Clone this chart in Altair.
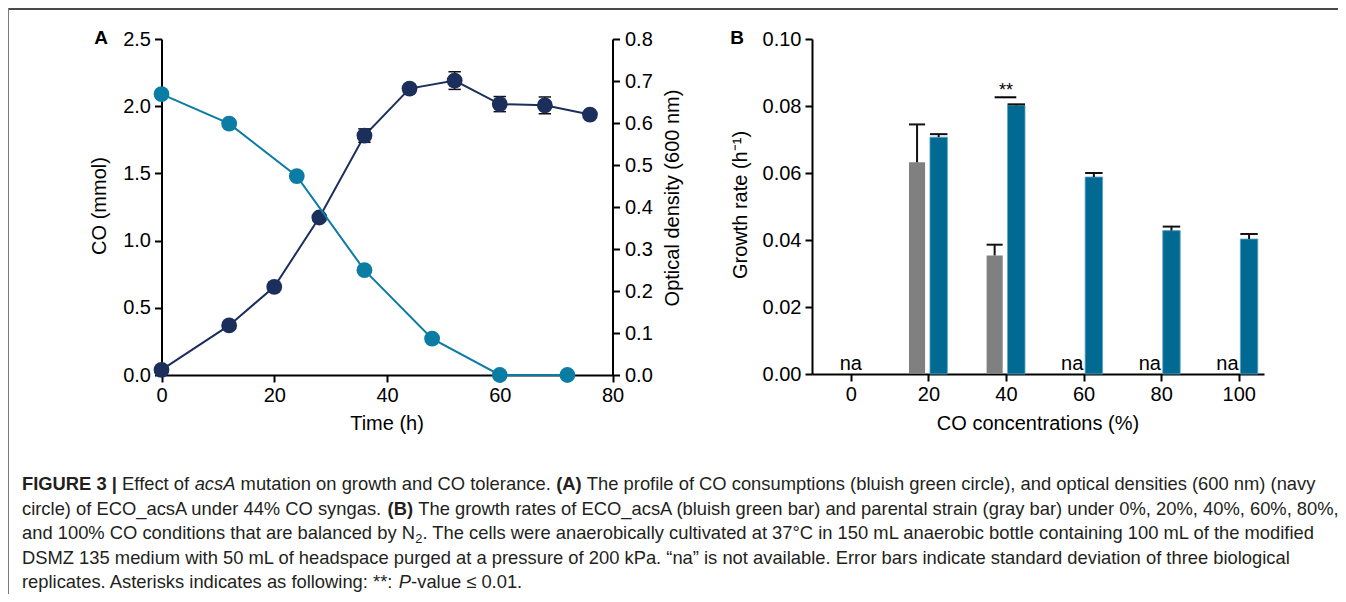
import altair as alt
import pandas as pd

FONT = "Liberation Sans, Arial, Helvetica, sans-serif"
W, H = 1330, 586
FS = 20

# ---------------- Panel A data ----------------
co_time = [0, 12, 24, 36, 48, 60, 72]
co_mmol = [2.09, 1.87, 1.48, 0.78, 0.27, 0.0, 0.0]
od_time = [0, 12, 20, 28, 36, 44, 52, 60, 68, 76]
od_600 = [0.012, 0.118, 0.210, 0.375, 0.570, 0.682, 0.701, 0.645, 0.642, 0.620]
od_sd = [0.0, 0.0, 0.0, 0.0, 0.016, 0.010, 0.021, 0.018, 0.020, 0.005]

# ---------------- Panel B data ----------------
co_conc = [0, 20, 40, 60, 80, 100]
parental_rate = [None, 0.0632, 0.0354, None, None, None]
parental_sd = [None, 0.0113, 0.0032, None, None, None]
acsA_rate = [None, 0.0707, 0.0802, 0.0588, 0.0428, 0.0403]
acsA_sd = [None, 0.0009, 0.0003, 0.0012, 0.0012, 0.0015]
sig_conc = [40]
sig_label = ["**"]
sig_level = [0.0826]

# ---------------- tick values ----------------
time_ticks = [0, 20, 40, 60, 80]
co_ticks = [0.0, 0.5, 1.0, 1.5, 2.0, 2.5]
od_ticks = [0.0, 0.1, 0.2, 0.3, 0.4, 0.5, 0.6, 0.7, 0.8]
conc_ticks = [0, 20, 40, 60, 80, 100]
rate_ticks = [0.0, 0.02, 0.04, 0.06, 0.08, 0.10]

# ---------------- styles ----------------
NAVY = "#1c2f5c"
TEAL = "#0b7ca3"
BLUE = "#016a93"
GRAY = "#808080"
GRAY_OFF = (-5.0, -0.85)   # bar extent relative to category (data units)
BLUE_OFF = (0.4, 4.9)
GRAY_C = sum(GRAY_OFF) / 2
BLUE_C = sum(BLUE_OFF) / 2

xA = alt.Scale(domain=[0, 80], range=[153.5, 604.5], nice=False, zero=False)
yL = alt.Scale(domain=[0, 2.5], range=[367, 31], nice=False, zero=False)
yR = alt.Scale(domain=[0, 0.8], range=[367, 31], nice=False, zero=False)
xB = alt.Scale(domain=[-10, 106.5], range=[804, 1256], nice=False, zero=False)
yB = alt.Scale(domain=[0, 0.1], range=[366, 31], nice=False, zero=False)

AX = dict(domainColor="#000", domainWidth=2, tickColor="#000", tickWidth=2, tickSize=7,
          labelFont=FONT, labelFontSize=FS, labelColor="#000", grid=False, title=None,
          labelFlush=False, labelOverlap=False)
axA_x = alt.Axis(orient="bottom", offset=-(H - 367), values=time_ticks, format="d", labelPadding=3, **AX)
axA_yl = alt.Axis(orient="left", offset=-153.5, values=co_ticks, format=".1f", labelPadding=4, **AX)
axA_yr = alt.Axis(orient="right", offset=-(W - 604.5), values=od_ticks, format=".1f", labelPadding=5, **AX)
axB_x = alt.Axis(orient="bottom", offset=-(H - 366), values=conc_ticks, format="d", labelPadding=3, **AX)
axB_y = alt.Axis(orient="left", offset=-804, values=rate_ticks, format=".2f", labelPadding=4, **AX)

# ---------------- tables ----------------
df_co = pd.DataFrame({"time": co_time, "co": co_mmol})
df_od = pd.DataFrame({"time": od_time, "od": od_600, "sd": od_sd})
df_par = pd.DataFrame({"conc": co_conc, "rate": parental_rate, "sd": parental_sd}).dropna()
df_acs = pd.DataFrame({"conc": co_conc, "rate": acsA_rate, "sd": acsA_sd}).dropna()
na_rows = []
for c, p, a in zip(co_conc, parental_rate, acsA_rate):
    if p is None and a is None:
        na_rows.append({"conc": c, "off": 0.0})
    elif p is None:
        na_rows.append({"conc": c, "off": GRAY_C})
    elif a is None:
        na_rows.append({"conc": c, "off": BLUE_C})
df_na = pd.DataFrame(na_rows)
df_sig = pd.DataFrame({"conc": sig_conc, "label": sig_label, "level": sig_level})

# ---------------- frame ----------------
frame_top = alt.Chart(pd.DataFrame({"a": [0]})).mark_rule(color="#4a4a4a", strokeWidth=2).encode(
    x=alt.value(0), x2=alt.value(W), y=alt.value(1))
frame_left = alt.Chart(pd.DataFrame({"a": [0]})).mark_rule(color="#7a7a7a", strokeWidth=1).encode(
    x=alt.value(0.5), y=alt.value(0), y2=alt.value(H))

# ---------------- Panel A ----------------
base_od = alt.Chart(df_od)
od_line = base_od.mark_line(color=NAVY, strokeWidth=2).encode(
    x=alt.X("time:Q", scale=xA, axis=axA_x),
    y=alt.Y("od:Q", scale=yR, axis=axA_yr))
od_err_base = base_od.transform_filter("datum.sd > 0").transform_calculate(
    lo="datum.od - datum.sd", hi="datum.od + datum.sd",
    t0="datum.time - 1.1", t1="datum.time + 1.1")
od_err = od_err_base.mark_rule(color="#111", strokeWidth=1.5).encode(
    x=alt.X("time:Q", scale=xA, axis=None),
    y=alt.Y("lo:Q", scale=yR, axis=None), y2="hi:Q")
od_cap_hi = od_err_base.mark_rule(color="#111", strokeWidth=1.5).encode(
    x=alt.X("t0:Q", scale=xA, axis=None), x2="t1:Q",
    y=alt.Y("hi:Q", scale=yR, axis=None))
od_cap_lo = od_err_base.mark_rule(color="#111", strokeWidth=1.5).encode(
    x=alt.X("t0:Q", scale=xA, axis=None), x2="t1:Q",
    y=alt.Y("lo:Q", scale=yR, axis=None))
od_pts = base_od.mark_circle(size=250, color=NAVY, opacity=1).encode(
    x=alt.X("time:Q", scale=xA, axis=None),
    y=alt.Y("od:Q", scale=yR, axis=None))
co_line = alt.Chart(df_co).mark_line(color=TEAL, strokeWidth=2).encode(
    x=alt.X("time:Q", scale=xA, axis=None),
    y=alt.Y("co:Q", scale=yL, axis=axA_yl))
co_pts = alt.Chart(df_co).mark_circle(size=250, color=TEAL, opacity=1).encode(
    x=alt.X("time:Q", scale=xA, axis=None),
    y=alt.Y("co:Q", scale=yL, axis=None))

# ---------------- Panel B ----------------
par_base = alt.Chart(df_par).transform_calculate(
    x0=f"datum.conc + {GRAY_OFF[0]}", x1=f"datum.conc + {GRAY_OFF[1]}",
    xc=f"datum.conc + {GRAY_C}", top="datum.rate + datum.sd", zero="0")
par_bars = par_base.mark_bar(color=GRAY).encode(
    x=alt.X("x0:Q", scale=xB, axis=None), x2="x1:Q",
    y=alt.Y("rate:Q", scale=yB, axis=None), y2="zero:Q")
par_err = par_base.mark_rule(color="#111", strokeWidth=2).encode(
    x=alt.X("xc:Q", scale=xB, axis=None),
    y=alt.Y("rate:Q", scale=yB, axis=None), y2="top:Q")
par_cap = par_base.mark_rule(color="#111", strokeWidth=2).encode(
    x=alt.X("x0:Q", scale=xB, axis=None), x2="x1:Q",
    y=alt.Y("top:Q", scale=yB, axis=None))

acs_base = alt.Chart(df_acs).transform_calculate(
    x0=f"datum.conc + {BLUE_OFF[0]}", x1=f"datum.conc + {BLUE_OFF[1]}",
    xc=f"datum.conc + {BLUE_C}", top="datum.rate + datum.sd", zero="0")
acs_bars = acs_base.mark_bar(color=BLUE, stroke="#5aa3c6", strokeWidth=0.8).encode(
    x=alt.X("x0:Q", scale=xB, axis=axB_x), x2="x1:Q",
    y=alt.Y("rate:Q", scale=yB, axis=axB_y), y2="zero:Q")
acs_err = acs_base.mark_rule(color="#111", strokeWidth=2).encode(
    x=alt.X("xc:Q", scale=xB, axis=None),
    y=alt.Y("rate:Q", scale=yB, axis=None), y2="top:Q")
acs_cap = acs_base.mark_rule(color="#111", strokeWidth=2).encode(
    x=alt.X("x0:Q", scale=xB, axis=None), x2="x1:Q",
    y=alt.Y("top:Q", scale=yB, axis=None))

na_text = alt.Chart(df_na).transform_calculate(
    xp="datum.conc + datum.off", zero="0").mark_text(
    text="na", font=FONT, fontSize=FS, color="#000", baseline="alphabetic", align="center", dy=-4).encode(
    x=alt.X("xp:Q", scale=xB, axis=None),
    y=alt.Y("zero:Q", scale=yB, axis=None))

sig_base = alt.Chart(df_sig).transform_calculate(
    xa=f"datum.conc + {GRAY_C}", xb=f"datum.conc + {BLUE_C}")
sig_rule = sig_base.mark_rule(color="#000", strokeWidth=2).encode(
    x=alt.X("xa:Q", scale=xB, axis=None), x2="xb:Q",
    y=alt.Y("level:Q", scale=yB, axis=None))
sig_txt = sig_base.mark_text(font=FONT, fontSize=18, color="#000", baseline="alphabetic",
                             align="center", dy=-1).encode(
    x=alt.X("conc:Q", scale=xB, axis=None),
    y=alt.Y("level:Q", scale=yB, axis=None),
    text="label:N")

# ---------------- titles ----------------
def label(txt, x, y, angle=0, bold=False, size=FS):
    return alt.Chart(pd.DataFrame({"t": [txt]})).mark_text(
        font=FONT, fontSize=size, fontWeight="bold" if bold else "normal", color="#000",
        align="center", baseline="middle", angle=angle).encode(
        text="t:N", x=alt.value(x), y=alt.value(y))

titles = [
    label("A", 93, 30, bold=True, size=19),
    label("B", 729, 30, bold=True, size=19),
    label("CO (mmol)", 92, 198, angle=270),
    label("Optical density (600 nm)", 665, 190, angle=270),
    label("Time (h)", 379, 416),
    label("Growth rate (h\u207b\u00b9)", 733, 197, angle=270),
    label("CO concentrations (%)", 1030, 416),
]

# ---------------- caption ----------------
REG_W = {' ': 278, '!': 278, '"': 355, '%': 889, '(': 333, ')': 333, '*': 389, ',': 278,
         '-': 333, '.': 278, '/': 278, ':': 278, ';': 278, '_': 556, '|': 260, '\u00b0': 400,
         '\u201c': 333, '\u201d': 333, '\u2264': 549}
for d in "0123456789":
    REG_W[d] = 556
REG_W.update(dict(A=667, B=667, C=722, D=722, E=667, F=611, G=778, H=722, I=278, J=500, K=667,
                  L=556, M=833, N=722, O=778, P=667, Q=778, R=722, S=667, T=611, U=722, V=667,
                  W=944, X=667, Y=667, Z=611))
REG_W.update(dict(a=556, b=556, c=500, d=556, e=556, f=278, g=556, h=556, i=222, j=222, k=500,
                  l=222, m=833, n=556, o=556, p=556, q=556, r=333, s=500, t=278, u=556, v=500,
                  w=722, x=500, y=500, z=500))
BOLD_W = {' ': 278, '(': 333, ')': 333, '|': 280, '3': 556, 'A': 722, 'B': 722, 'E': 667,
          'F': 611, 'G': 778, 'I': 278, 'R': 722, 'U': 722}

caption_lines = [
    [("FIGURE 3 | ", "bold"), ("Effect of ", "normal"), ("acsA", "italic"),
     (" mutation on growth and CO tolerance. ", "normal"), ("(A)", "bold"),
     (" The profile of CO consumptions (bluish green circle), and optical densities (600 nm) (navy", "normal")],
    [("circle) of ECO_acsA under 44% CO syngas. ", "normal"), ("(B)", "bold"),
     (" The growth rates of ECO_acsA (bluish green bar) and parental strain (gray bar) under 0%, 20%, 40%, 60%, 80%,", "normal")],
    [("and 100% CO conditions that are balanced by N", "normal"), ("2", "sub"),
     (". The cells were anaerobically cultivated at 37\u00b0C in 150 mL anaerobic bottle containing 100 mL of the modified", "normal")],
    [("DSMZ 135 medium with 50 mL of headspace purged at a pressure of 200 kPa. \u201cna\u201d is not available. Error bars indicate standard deviation of three biological", "normal")],
    [("replicates. Asterisks indicates as following: **: ", "normal"), ("P", "italic"),
     ("-value \u2264 0.01.", "normal")],
]
SUB_SCALE = 0.7


def seg_units(s, style):
    table = BOLD_W if style == "bold" else REG_W
    u = sum(table.get(ch, 556) for ch in s)
    return u * (SUB_SCALE if style == "sub" else 1.0)


u_line1 = sum(seg_units(s, st) for s, st in caption_lines[0])
CAP_FS = max(14.0, min(19.0, 1294 * 1000.0 / u_line1))
CAP_X0 = 14
CAP_Y = [482.0, 506.6, 531.2, 555.8, 580.4]

cap_rows = []
for li, segs in enumerate(caption_lines):
    cursor = CAP_X0
    for s, st in segs:
        lead = len(s) - len(s.lstrip(" "))
        xpos = cursor + seg_units(" " * lead, "normal") * CAP_FS / 1000.0
        cap_rows.append({"t": s.strip(" "), "x": xpos, "y": CAP_Y[li] + (4 if st == "sub" else 0), "style": st})
        cursor += seg_units(s, st) * CAP_FS / 1000.0
df_cap = pd.DataFrame(cap_rows)


def cap_layer(style, size, weight="normal", italic=False):
    return alt.Chart(df_cap).transform_filter(f"datum.style == '{style}'").mark_text(
        font=FONT, fontSize=size, fontWeight=weight, fontStyle="italic" if italic else "normal",
        color="#231f20", align="left", baseline="alphabetic").encode(
        x=alt.X("x:Q", scale=None, axis=None), y=alt.Y("y:Q", scale=None, axis=None), text="t:N")


caption = [
    cap_layer("normal", CAP_FS),
    cap_layer("bold", CAP_FS, weight="bold"),
    cap_layer("italic", CAP_FS, italic=True),
    cap_layer("sub", CAP_FS * SUB_SCALE),
]

chart = alt.layer(
    frame_top, frame_left,
    od_line, od_err, od_cap_hi, od_cap_lo, od_pts, co_line, co_pts,
    par_bars, par_err, par_cap, acs_bars, acs_err, acs_cap, na_text, sig_rule, sig_txt,
    *titles, *caption,
).resolve_scale(x="independent", y="independent").properties(
    width=W, height=H, padding=0, autosize=alt.AutoSizeParams(type="none")
).configure_view(stroke=None)

chart.save("out.html", embed_options={"renderer": "svg", "actions": False})
